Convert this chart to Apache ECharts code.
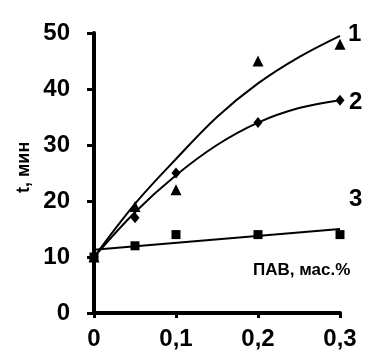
<!DOCTYPE html>
<html><head><meta charset="utf-8">
<script src="https://cdn.jsdelivr.net/npm/echarts@6/dist/echarts.min.js"></script>
<style>html,body{margin:0;padding:0;background:#fff}#c{width:377px;height:354px}</style>
</head><body><div id="c"></div>
<script>
// Data
const xPoints = [0, 0.05, 0.1, 0.2, 0.3];
const series1Points = [10, 19, 22, 45, 48];     // triangles
const series2Points = [10, 17, 25, 34, 38];     // diamonds
const series3Points = [10, 12, 14, 14, 14];     // squares
// trend curves
const curveX = [0, 0.05, 0.1, 0.15, 0.2, 0.25, 0.3];
const curve1 = [10, 19.5, 27.5, 35, 41, 45.7, 49.5];
const curve2 = [10, 18, 24.6, 30, 34, 36.6, 38];
const curve3X = [0, 0.3];
const curve3 = [11.3, 15];
const xTicks = ['0', '0,1', '0,2', '0,3'];
const yTicks = [0, 10, 20, 30, 40, 50];

const pairs = (xs, ys) => xs.map((x, i) => [x, ys[i]]);
const font = 'Liberation Sans, Arial, sans-serif';

const chart = echarts.init(document.getElementById('c'), null, {renderer: 'canvas'});
chart.setOption({
  animation: false,
  backgroundColor: '#fff',
  grid: {left: 94, right: 37, top: 33, bottom: 41},
  xAxis: {
    type: 'value', min: 0, max: 0.3, interval: 0.1,
    axisLine: {lineStyle: {color: '#000', width: 4}},
    axisTick: {show: true, length: 5, lineStyle: {color: '#000', width: 3}},
    splitLine: {show: false},
    axisLabel: {color: '#000', fontFamily: font, fontWeight: 'bold', fontSize: 24, margin: 14,
      formatter: v => xTicks[Math.round(v * 10)]}
  },
  yAxis: {
    type: 'value', min: 0, max: 50, interval: 10,
    axisLine: {show: true, lineStyle: {color: '#000', width: 4}},
    axisTick: {show: true, length: 7, lineStyle: {color: '#000', width: 3}},
    splitLine: {show: false},
    axisLabel: {color: '#000', fontFamily: font, fontWeight: 'bold', fontSize: 24, margin: 24}
  },
  series: [
    {type: 'line', data: pairs(curveX, curve1), smooth: 0.35, showSymbol: false,
      lineStyle: {color: '#000', width: 2}},
    {type: 'line', data: pairs(curveX, curve2), smooth: 0.35, showSymbol: false,
      lineStyle: {color: '#000', width: 2}},
    {type: 'line', data: pairs(curve3X, curve3), showSymbol: false,
      lineStyle: {color: '#000', width: 2}},
    {type: 'scatter', data: pairs(xPoints, series1Points), symbol: 'triangle', symbolSize: 11,
      itemStyle: {color: '#000', opacity: 1}},
    {type: 'scatter', data: pairs(xPoints, series2Points), symbol: 'diamond', symbolSize: [9, 11],
      itemStyle: {color: '#000', opacity: 1}},
    {type: 'scatter', data: pairs(xPoints, series3Points), symbol: 'rect', symbolSize: 9,
      itemStyle: {color: '#000', opacity: 1}}
  ],
  graphic: [
    {type: 'text', left: 348, top: 22, style: {text: '1', font: 'bold 24px ' + font, fill: '#000'}},
    {type: 'text', left: 349, top: 90, style: {text: '2', font: 'bold 24px ' + font, fill: '#000'}},
    {type: 'text', left: 349, top: 187, style: {text: '3', font: 'bold 24px ' + font, fill: '#000'}},
    {type: 'text', left: 253, top: 262, style: {text: 'ПАВ, мас.%', font: 'bold 17px ' + font, fill: '#000'}},
    {type: 'text', x: 15, y: 193, rotation: Math.PI / 2,
      style: {text: 't, мин', font: 'bold 18px ' + font, fill: '#000'}}
  ]
});
</script></body></html>
